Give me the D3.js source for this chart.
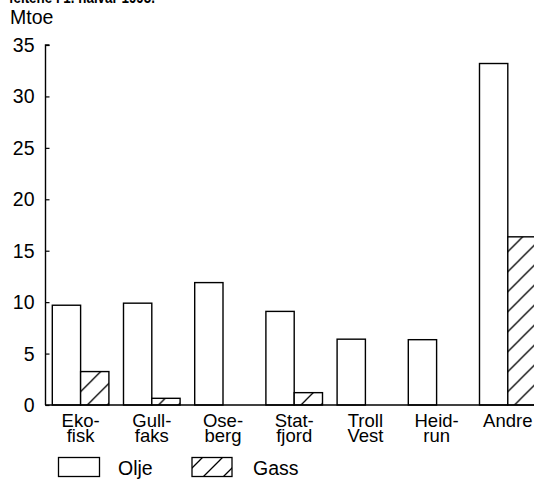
<!DOCTYPE html>
<html>
<head>
<meta charset="utf-8">
<script src="https://cdn.jsdelivr.net/npm/d3@7"></script>
<style>
  html, body { margin: 0; padding: 0; background: #fff; }
  svg { display: block; }
  text { font-family: "Liberation Sans", Arial, Helvetica, sans-serif; fill: #000; }
</style>
</head>
<body>
<svg id="chart" width="534" height="479"></svg>
<script>
// ---- data ----
const categories = ["Ekofisk", "Gullfaks", "Oseberg", "Statfjord", "Troll Vest", "Heidrun", "Andre"];
const categoryLabels = [["Eko-", "fisk"], ["Gull-", "faks"], ["Ose-", "berg"], ["Stat-", "fjord"], ["Troll", "Vest"], ["Heid-", "run"], ["Andre"]];
const olje = [9.7, 9.9, 11.9, 9.1, 6.4, 6.35, 33.2];
const gass = [3.25, 0.65, 0, 1.2, 0, 0, 16.35];
const yTicks = [0, 5, 10, 15, 20, 25, 30, 35];
const seriesNames = ["Olje", "Gass"];
const unitLabel = "Mtoe";
const titleText = "feltene i 1. halvår 1995.";

// ---- layout ----
const svg = d3.select("#chart");
const axisX = 45.5, y0 = 405, yTop = 45;
const FS = 19.5;

const x = d3.scaleBand().domain(categories).range([52.3, 536.1]).paddingInner(0.205).paddingOuter(0);
const xs = d3.scaleBand().domain(seriesNames).range([0, x.bandwidth()]).padding(0);
const y = d3.scaleLinear().domain([0, 35]).range([y0, yTop]);

// hatch pattern
const defs = svg.append("defs");
const pat = defs.append("pattern").attr("id", "hatch").attr("patternUnits", "userSpaceOnUse")
  .attr("width", 20).attr("height", 20);
pat.append("rect").attr("width", 20).attr("height", 20).attr("fill", "#fff");
pat.append("path").attr("d", "M-5,25 L25,-5 M-5,5 L5,-5 M15,25 L25,15")
  .attr("stroke", "#000").attr("stroke-width", 1.3).attr("fill", "none");

// clipped top title (only its lower edge is visible in the reference)
svg.append("text").attr("x", 9).attr("y", 3).attr("font-weight", "bold")
  .attr("font-size", 17).attr("textLength", 146).attr("lengthAdjust", "spacingAndGlyphs")
  .text(titleText);

// unit label
svg.append("text").attr("x", 10).attr("y", 23.5).attr("font-size", 19.5).text(unitLabel);

// y axis
const yAxis = d3.axisRight(y).tickValues(yTicks).tickSize(4).tickFormat("");
const yg = svg.append("g").attr("transform", `translate(${axisX},0)`).call(yAxis);
yg.select(".domain").attr("d", `M4,${yTop}H0V${y0}`).attr("stroke", "#000").attr("stroke-width", 1.4);
yg.selectAll(".tick line").attr("stroke", "#000").attr("stroke-width", 1.2);

svg.append("g").selectAll("text").data(yTicks).join("text")
  .attr("x", 34.5).attr("y", d => y(d)).attr("dy", "0.36em")
  .attr("text-anchor", "end").attr("font-size", FS).text(d => d);

// bars
const groups = svg.append("g").selectAll("g").data(categories).join("g")
  .attr("transform", d => `translate(${x(d)},0)`);

groups.append("rect")
  .attr("x", xs("Olje")).attr("width", xs.bandwidth())
  .attr("y", (d, i) => y(olje[i])).attr("height", (d, i) => y0 - y(olje[i]))
  .attr("fill", "#fff").attr("stroke", "#000").attr("stroke-width", 1.4);

groups.filter((d, i) => gass[i] > 0).append("rect")
  .attr("x", xs("Gass")).attr("width", xs.bandwidth())
  .attr("y", d => y(gass[categories.indexOf(d)]))
  .attr("height", d => y0 - y(gass[categories.indexOf(d)]))
  .attr("fill", "url(#hatch)").attr("stroke", "#000").attr("stroke-width", 1.4);

// x baseline
svg.append("line").attr("x1", axisX - 0.5).attr("x2", 534).attr("y1", y0).attr("y2", y0)
  .attr("stroke", "#000").attr("stroke-width", 1.6);

// category labels
const lab = svg.append("g").selectAll("text").data(categories).join("text")
  .attr("text-anchor", "middle").attr("font-size", 18.5)
  .attr("transform", d => `translate(${x(d) + x.bandwidth() / 2},427)`);
lab.selectAll("tspan").data((d, i) => categoryLabels[i]).join("tspan")
  .attr("x", 0).attr("y", (d, j) => j * 15).text(d => d);

// legend
const leg = svg.append("g");
leg.append("rect").attr("x", 58.5).attr("y", 457.5).attr("width", 41).attr("height", 19)
  .attr("fill", "#fff").attr("stroke", "#000").attr("stroke-width", 1.3);
leg.append("text").attr("x", 118).attr("y", 475).attr("font-size", FS).text(seriesNames[0]);
leg.append("rect").attr("x", 192).attr("y", 457.5).attr("width", 40).attr("height", 19)
  .attr("fill", "url(#hatch)").attr("stroke", "#000").attr("stroke-width", 1.3);
leg.append("text").attr("x", 253).attr("y", 475).attr("font-size", FS).text(seriesNames[1]);
</script>
</body>
</html>
